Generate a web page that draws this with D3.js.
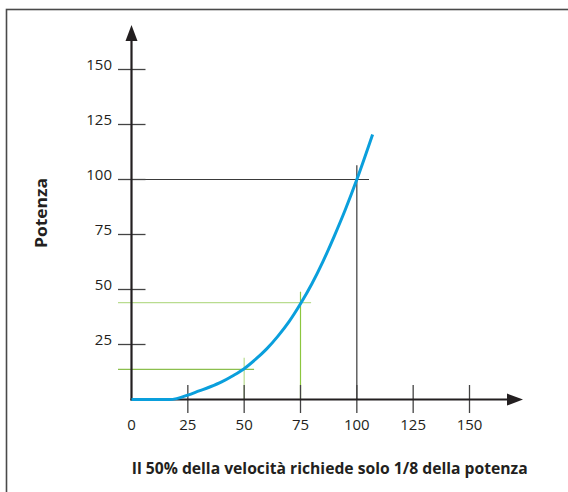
<!DOCTYPE html>
<html><head><meta charset="utf-8">
<script src="https://cdn.jsdelivr.net/npm/d3@7/dist/d3.min.js"></script>
<style>html,body{margin:0;padding:0;background:#fff;overflow:hidden}</style>
</head><body><svg id="c" width="568" height="492"></svg>
<script>
const xTicks = [25, 50, 75, 100, 125, 150];
const xLabels = ["0", "25", "50", "75", "100", "125", "150"];
const yTicks = [25, 50, 75, 100, 125, 150];
const yLabels = ["25", "50", "75", "100", "125", "150"];
const speed = [0, 17, 20, 25, 30, 35, 40, 45, 50, 55, 60, 65, 70, 75, 80, 85, 90, 95, 100, 107];
const power = [0, 0, 0.4, 2.0, 3.9, 5.8, 8.0, 10.8, 14.0, 18.2, 23.0, 28.8, 35.5, 43.5, 52.5, 62.8, 74.3, 86.6, 100, 120.5];
// guide lines
const guides = [
  {v: 100, p: 100, vMax: 105.4, pMax: 106.5, hColor: "#3a3a3a", vColor: "#3a3a3a"},
  {v: 75, p: 44, vMax: 79.7, pMax: 49, hColor: "#b9dc8f", vColor: "#8cc63f"},
  {v: 50, p: 13.7, vMax: 54.4, pMax: 19, hColor: "#8cbf4e", vColor: "#b9dc8f"}
];
const yTitle = "Potenza";
const xTitle = "Il 50% della velocità richiede solo 1/8 della potenza";

const svg = d3.select("#c");
const font = "'Open Sans', 'Noto Sans', sans-serif";
const x = d3.scaleLinear().domain([0, 150]).range([131.5, 469.5]);
const y = d3.scaleLinear().domain([0, 150]).range([399.5, 69.5]);

// frame
svg.append("rect").attr("x", 6.5).attr("y", 9.5).attr("width", 600).attr("height", 600)
  .attr("fill", "none").attr("stroke", "#4a4a4a").attr("stroke-width", 1.6);

// guide lines
guides.forEach(g => {
  svg.append("line").attr("x1", 118).attr("x2", x(g.vMax)).attr("y1", y(g.p)).attr("y2", y(g.p))
    .attr("stroke", g.hColor).attr("stroke-width", 1.2);
  svg.append("line").attr("x1", x(g.v)).attr("x2", x(g.v)).attr("y1", y(g.pMax)).attr("y2", y(0))
    .attr("stroke", g.vColor).attr("stroke-width", 1.2);
});

// ticks
svg.selectAll(".yt").data(yTicks).enter().append("line")
  .attr("x1", x(0) - 13.5).attr("x2", x(0) + 14).attr("y1", d => y(d)).attr("y2", d => y(d))
  .attr("stroke", "#444").attr("stroke-width", 1.3);
svg.selectAll(".xt").data(xTicks).enter().append("line")
  .attr("x1", d => x(d)).attr("x2", d => x(d)).attr("y1", y(0) - 14.5).attr("y2", y(0) + 13.5)
  .attr("stroke", "#444").attr("stroke-width", 1.3);

// axes
const axisColor = "#231f20";
svg.append("line").attr("x1", x(0)).attr("x2", x(0)).attr("y1", y(0) + 1).attr("y2", 38)
  .attr("stroke", axisColor).attr("stroke-width", 2.2);
svg.append("path").attr("d", `M${x(0)},25 L${x(0) - 6},41 L${x(0) + 6},41 Z`).attr("fill", axisColor);
svg.append("line").attr("x1", x(0) - 1).attr("x2", 510).attr("y1", y(0)).attr("y2", y(0))
  .attr("stroke", axisColor).attr("stroke-width", 2.2);
svg.append("path").attr("d", `M523,${y(0)} L507,${y(0) - 6} L507,${y(0) + 6} Z`).attr("fill", axisColor);

// tick labels
svg.selectAll(".yl").data(yTicks).enter().append("text")
  .attr("x", 112).attr("y", d => y(d)).attr("text-anchor", "end")
  .attr("font-family", font).attr("font-size", 15).attr("fill", "#231f20")
  .text((d, i) => yLabels[i]);
svg.selectAll(".xl").data([0].concat(xTicks)).enter().append("text")
  .attr("x", d => x(d)).attr("y", 429.5).attr("text-anchor", "middle")
  .attr("font-family", font).attr("font-size", 15).attr("fill", "#231f20")
  .text((d, i) => xLabels[i]);

// curve
const pts = speed.map((v, i) => [v, power[i]]);
svg.append("path").datum(pts)
  .attr("d", d3.line().x(d => x(d[0])).y(d => y(d[1])).curve(d3.curveMonotoneX))
  .attr("fill", "none").attr("stroke", "#0a9fdc").attr("stroke-width", 3);

// titles
svg.append("text").attr("transform", "translate(46.5,213) rotate(-90)")
  .attr("text-anchor", "middle").attr("font-family", font).attr("font-weight", "bold")
  .attr("font-size", 16).attr("fill", "#231f20").attr("textLength", 70).attr("lengthAdjust", "spacingAndGlyphs")
  .text(yTitle);
svg.append("text").attr("x", 131.7).attr("y", 474.3)
  .attr("font-family", font).attr("font-weight", "bold")
  .attr("font-size", 16).attr("fill", "#231f20").attr("textLength", 396).attr("lengthAdjust", "spacingAndGlyphs")
  .text(xTitle);
</script></body></html>
